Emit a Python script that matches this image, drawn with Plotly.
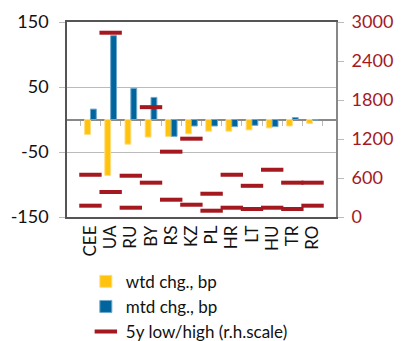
import plotly.graph_objects as go

categories = ["CEE", "UA", "RU", "BY", "RS", "KZ", "PL", "HR", "LT", "HU", "TR", "RO"]
wtd_chg = [-23, -86, -38, -27, -26, -22, -18, -18, -16, -13, -10, -6]
mtd_chg = [16, 129, 48, 34, -26, -10, -10, -11, -9, -11, 3, -1]
high_5y = [650, 2835, 635, 1690, 1005, 1205, 358, 650, 480, 727, 528, 528]
low_5y = [174, 385, 143, 528, 266, 189, 97, 143, 123, 143, 123, 174]
left_ticks = [-150, -50, 50, 150]
left_tick_labels = ["-150", "-50", "50", "150"]

FONT = "Lato"
YEL = "#FFC20E"
BLUE = "#00659C"
RED = "#A3191F"

fig = go.Figure()
fig.add_trace(go.Bar(x=categories, y=wtd_chg, name="wtd chg., bp",
                     marker=dict(color=YEL, line=dict(color="#FFDD80", width=1))))
fig.add_trace(go.Bar(x=categories, y=mtd_chg, name="mtd chg., bp",
                     marker=dict(color=BLUE, line=dict(color="#6FA8CC", width=1))))
fig.add_trace(go.Scatter(x=categories + categories, y=high_5y + low_5y,
                         name="5y low/high (r.h.scale)", mode="markers", yaxis="y2",
                         marker=dict(symbol="line-ew", size=16, color=RED,
                                     line=dict(color=RED, width=4))))
# invisible trace for zero-line category ticks
fig.add_trace(go.Scatter(x=categories, y=[0]*len(categories), xaxis="x2",
                         mode="markers", marker=dict(opacity=0), showlegend=False,
                         hoverinfo="skip"))

fig.update_layout(
    width=402, height=341,
    margin=dict(l=67, r=66, t=22, b=124, autoexpand=False),
    paper_bgcolor="white", plot_bgcolor="white",
    font=dict(family=FONT, size=17, color="#222"),
    barmode="group", bargap=0.42, bargroupgap=0,
    showlegend=True,
    legend=dict(x=0.07, y=-0.24, xanchor="left", yanchor="top",
                font=dict(size=17, color="#111"), tracegroupgap=0,
                itemwidth=30, bgcolor="rgba(0,0,0,0)"),
    xaxis=dict(type="category", tickangle=-90, showline=True, mirror=True,
               linecolor="#555", linewidth=1.5, ticks="", showgrid=False,
               automargin=False, tickfont=dict(size=17, color="#111")),
    xaxis2=dict(type="category", overlaying="x", anchor="free", position=0.5,
                matches="x", showticklabels=False, showline=False, ticks="outside",
                tickson="boundaries", ticklen=5, tickcolor="#BBBBBB", showgrid=False),
    yaxis=dict(range=[-150, 150], tickvals=left_ticks, ticktext=left_tick_labels,
               showline=True, automargin=False, ticklabelstandoff=7,
               linecolor="#555", linewidth=1.5, ticks="outside", ticklen=6,
               tickcolor="#BBBBBB", gridcolor="#BBBBBB", gridwidth=1,
               zeroline=True, zerolinecolor="#888", zerolinewidth=1.5,
               tickfont=dict(size=18, color="#111")),
    yaxis2=dict(range=[0, 3000], dtick=600, overlaying="y", side="right",
                showline=True, linecolor="#888", linewidth=2, ticks="outside",
                ticklen=6, tickcolor="#BBBBBB", showgrid=False, zeroline=False,
                automargin=False, ticklabelstandoff=4,
                tickfont=dict(size=18, color=RED)),
)

fig.write_html("out.html")
